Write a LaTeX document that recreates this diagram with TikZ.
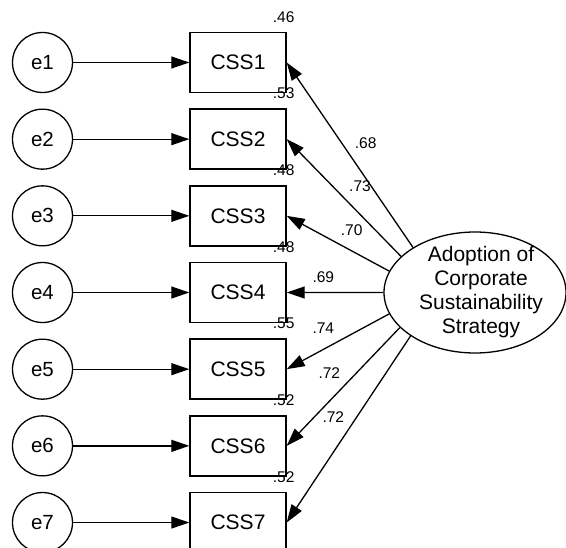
\documentclass[tikz,border=0pt]{standalone}
\usepackage{fontspec}
\setmainfont{Liberation Sans}
\usetikzlibrary{arrows.meta,shapes.geometric}
\begin{document}
\begin{tikzpicture}[x=1bp,y=-1bp,
  path/.style={line width=1.3bp, -{Triangle[length=18bp,width=12bp]}},
  obs/.style={draw, line width=1.4bp, minimum width=96bp, minimum height=60bp,
    inner sep=0pt, font=\fontsize{21bp}{24bp}\selectfont},
  err/.style={draw, circle, line width=1.3bp, minimum size=60bp, inner sep=0pt,
    font=\fontsize{20.5bp}{24bp}\selectfont},
  lat/.style={draw, ellipse, line width=1.3bp, minimum width=182bp,
    minimum height=121bp, inner sep=0pt},
  wt/.style={font=\fontsize{15.5bp}{18bp}\selectfont, inner sep=0pt}]
\useasboundingbox (0,0) rectangle (566,548);
\fill[white] (0,0) rectangle (566,548);

% latent factor
\node[lat] (F) at (475,292.5) {};
\node[align=center, inner sep=0pt, font=\fontsize{21bp}{23.8bp}\selectfont]
  (Ft) at (481,292) {Adoption of\\Corporate\\Sustainability\\Strategy};

% indicators with error terms and squared multiple correlations
\foreach \i/\r in {1/.46,2/.53,3/.48,4/.48,5/.55,6/.52,7/.52} {
  \pgfmathsetmacro{\yy}{62.5+76.67*(\i-1)}
  \node[obs] (c\i) at (238,\yy) {CSS\i};
  \node[err] (e\i) at (42.5,\yy) {e\i};
  \draw[path] (e\i) -- (c\i);
  \node[wt] (r\i) at ([xshift=-3bp,yshift=15bp]c\i.north east) {\r};
}

% factor loadings
\draw[path] (F.144.8) -- (c1.east);
\draw[path] (F.154) -- (c2.east);
\draw[path] (F.166.5) -- (c3.east);
\draw[path] (F.180) -- (c4.east);
\draw[path] (F.194.2) -- (c5.east);
\draw[path] (F.205.5) -- (c6.east);
\draw[path] (F.214.9) -- (c7.east);

\node[wt] (w1) at (365.7,143.3) {.68};
\node[wt] (w2) at (360,186.5) {.73};
\node[wt] (w3) at (351.7,230) {.70};
\node[wt] (w4) at (323.3,277.3) {.69};
\node[wt] (w5) at (323.3,328.3) {.74};
\node[wt] (w6) at (329.3,373.3) {.72};
\node[wt] (w7) at (333.3,416.7) {.72};
\end{tikzpicture}
\end{document}
